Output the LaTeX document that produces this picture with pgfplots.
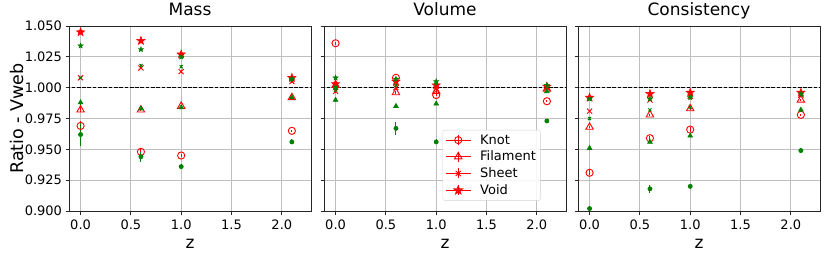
\documentclass[border=0pt]{standalone}
\usepackage{pgfplots}
\pgfplotsset{compat=1.18}
\usepackage{pgfplotstable}
\usepackage{fontspec}
\setmainfont{DejaVu Sans}
\definecolor{mplgreen}{HTML}{008000}
\definecolor{mplred}{HTML}{FF0000}

\pgfdeclareplotmark{fstar}{%
  \pgfpathmoveto{\pgfpointpolar{90}{\pgfplotmarksize}}%
  \pgfpathlineto{\pgfpointpolar{126}{0.42\pgfplotmarksize}}%
  \pgfpathlineto{\pgfpointpolar{162}{\pgfplotmarksize}}%
  \pgfpathlineto{\pgfpointpolar{198}{0.42\pgfplotmarksize}}%
  \pgfpathlineto{\pgfpointpolar{234}{\pgfplotmarksize}}%
  \pgfpathlineto{\pgfpointpolar{270}{0.42\pgfplotmarksize}}%
  \pgfpathlineto{\pgfpointpolar{306}{\pgfplotmarksize}}%
  \pgfpathlineto{\pgfpointpolar{342}{0.42\pgfplotmarksize}}%
  \pgfpathlineto{\pgfpointpolar{18}{\pgfplotmarksize}}%
  \pgfpathlineto{\pgfpointpolar{54}{0.42\pgfplotmarksize}}%
  \pgfpathclose
  \pgfusepathqfillstroke
}

% columns: x, red (kR knot, fR filament, sR sheet, vR void) with errors, green likewise
\pgfplotstableread{
x   kR    kRe   fR    fRe   sR    sRe   vR    vRe   kG    kGe   fG    fGe   sG    sGe   vG    vGe
0.0 0.969 0.004 0.982 0.002 1.008 0.001 1.045 0.001 0.962 0.009 0.988 0.002 1.008 0.001 1.034 0.001
0.6 0.948 0.002 0.982 0.001 1.016 0.001 1.038 0.001 0.944 0.004 0.983 0.001 1.018 0.001 1.031 0.001
1.0 0.945 0.001 0.985 0.001 1.013 0.001 1.027 0.001 0.936 0.002 0.984 0.001 1.017 0.001 1.025 0.001
2.1 0.965 0.001 0.992 0.001 1.005 0.001 1.008 0.001 0.956 0.002 0.992 0.001 1.007 0.001 1.007 0.001
}\mass
\pgfplotstableread{
x   kR    kRe   fR    fRe   sR    sRe   vR    vRe   kG    kGe   fG    fGe   sG    sGe   vG    vGe
0.0 1.036 0.001 1.002 0.001 0.997 0.001 1.003 0.001 1.000 0.001 0.990 0.002 0.998 0.001 1.008 0.001
0.6 1.008 0.001 0.996 0.001 1.000 0.001 1.005 0.001 0.967 0.005 0.985 0.001 1.002 0.001 1.007 0.001
1.0 0.994 0.001 0.997 0.001 0.999 0.001 1.002 0.001 0.956 0.002 0.987 0.001 1.003 0.001 1.005 0.001
2.1 0.989 0.001 0.999 0.001 1.000 0.001 1.001 0.001 0.973 0.002 0.997 0.001 1.001 0.001 1.002 0.001
}\volume
\pgfplotstableread{
x   kR    kRe   fR    fRe   sR    sRe   vR    vRe   kG    kGe   fG    fGe   sG    sGe   vG    vGe
0.0 0.931 0.002 0.968 0.001 0.981 0.001 0.992 0.001 0.902 0.002 0.951 0.001 0.975 0.001 0.991 0.001
0.6 0.959 0.002 0.978 0.001 0.990 0.001 0.995 0.001 0.918 0.003 0.956 0.001 0.982 0.001 0.991 0.001
1.0 0.966 0.002 0.983 0.001 0.993 0.001 0.996 0.001 0.920 0.002 0.961 0.001 0.984 0.001 0.992 0.001
2.1 0.978 0.001 0.990 0.001 0.994 0.001 0.996 0.001 0.949 0.002 0.982 0.001 0.994 0.001 0.995 0.001
}\consist

\pgfplotsset{
  panel/.style={
    scale only axis, width=242pt, height=185pt, anchor=south west,
    xmin=-0.115, xmax=2.29, ymin=0.9, ymax=1.05,
    xtick={0,0.5,1,1.5,2},
    ytick={0.9,0.925,0.95,0.975,1,1.025,1.05},
    xtick pos=bottom, ytick pos=left,
    grid=major, major grid style={color=black!25, line width=0.8pt},
    tick align=outside, major tick length=3.5pt,
    tick style={black!85, line width=0.8pt},
    axis line style={black!85, line width=0.9pt},
    tick label style={font=\fontsize{13}{15}\selectfont},
    xticklabel style={yshift=-1.5pt},
    /pgf/number format/assume math mode=true,
    xticklabel style={/pgf/number format/.cd, fixed, fixed zerofill, precision=1},
    yticklabel style={/pgf/number format/.cd, fixed, fixed zerofill, precision=3},
    scaled ticks=false,
    title style={at={(0.5,1)}, anchor=base, yshift=4.8pt, inner sep=0pt, font=\fontsize{17}{20}\selectfont},
    xlabel=z,
    xlabel style={at={(axis description cs:0.5,0)}, anchor=base, yshift=-37pt, inner sep=0pt, font=\fontsize{17}{20}\selectfont},
    clip=true,
  },
  legimg/.style={legend image code/.code={
      \draw[##1] (0pt,0pt) -- (25pt,0pt);
      \draw[##1] (12.5pt,-5pt) -- (12.5pt,5pt);
      \draw[##1] plot coordinates {(12.5pt,0pt)};
      \path (32pt,0pt);
  }},
  ebr/.style={error bars/.cd, y dir=both, y explicit, error mark=none,
      error bar style={line width=1pt, mplred}},
  ebg/.style={error bars/.cd, y dir=both, y explicit, error mark=none,
      error bar style={line width=1pt, mplgreen}},
  rk/.style={mplred, only marks, mark=o, mark size=3.6pt, line width=0.9pt, forget plot, ebr},
  rf/.style={mplred, only marks, mark=triangle, mark size=4.3pt, line width=0.9pt, forget plot, ebr},
  rs/.style={mplred, only marks, mark=x, mark size=3.6pt, line width=0.9pt, forget plot, ebr},
  rv/.style={mplred, only marks, mark=fstar, mark size=4.4pt, line width=0.5pt, forget plot, ebr},
  gk/.style={mplgreen, only marks, mark=*, mark size=2.1pt, line width=0.6pt, forget plot, ebg},
  gf/.style={mplgreen, only marks, mark=triangle*, mark size=2.7pt, line width=0.6pt, forget plot, ebg},
  gs/.style={mplgreen, only marks, mark=x, mark size=2.2pt, line width=0.9pt, forget plot, ebg},
  gv/.style={mplgreen, only marks, mark=fstar, mark size=2.8pt, line width=0.4pt, forget plot, ebg},
}

\newcommand{\allplots}[1]{%
  \addplot[black, dashed, dash pattern=on 3.7pt off 1.6pt, line width=1pt, forget plot] coordinates {(-0.3,1) (2.5,1)};
  \addplot[rk] table[x=x, y=kR, y error=kRe] {#1};
  \addplot[rf] table[x=x, y=fR, y error=fRe] {#1};
  \addplot[rs] table[x=x, y=sR, y error=sRe] {#1};
  \addplot[rv] table[x=x, y=vR, y error=vRe] {#1};
  \addplot[gk] table[x=x, y=kG, y error=kGe] {#1};
  \addplot[gf] table[x=x, y=fG, y error=fGe] {#1};
  \addplot[gs] table[x=x, y=sG, y error=sGe] {#1};
  \addplot[gv] table[x=x, y=vG, y error=vGe] {#1};
}

\begin{document}
\begin{tikzpicture}
\useasboundingbox (0pt,0pt) rectangle (830pt,260pt);

\begin{axis}[panel, at={(69pt,49pt)}, title={Mass},
  ylabel={Ratio - Vweb},
  ylabel style={at={(axis description cs:-0.215,0.5)}, anchor=center, inner sep=0pt, font=\fontsize{17.5}{20}\selectfont}]
\allplots{\mass}
\end{axis}

\begin{axis}[panel, at={(324pt,49pt)}, title={Volume}, yticklabels={},
  legend style={at={(0.49,0.056)}, anchor=south west, font=\fontsize{13}{15}\selectfont,
    draw=black!18, fill=white, fill opacity=0.85, text opacity=1, rounded corners=2pt,
    inner sep=2.5pt, row sep=1.4pt, cells={anchor=west}},
  legend cell align=left]
\allplots{\volume}
\addlegendimage{mplred, mark=o, mark size=3.6pt, line width=0.9pt, legimg}
\addlegendentry{Knot}
\addlegendimage{mplred, mark=triangle, mark size=4.3pt, line width=0.9pt, legimg}
\addlegendentry{Filament}
\addlegendimage{mplred, mark=x, mark size=3.6pt, line width=0.9pt, legimg}
\addlegendentry{Sheet}
\addlegendimage{mplred, mark=fstar, mark size=4.4pt, line width=0.9pt, legimg}
\addlegendentry{Void}
\end{axis}

\begin{axis}[panel, at={(578pt,49pt)}, title={Consistency}, yticklabels={}]
\allplots{\consist}
\end{axis}
\end{tikzpicture}
\end{document}
